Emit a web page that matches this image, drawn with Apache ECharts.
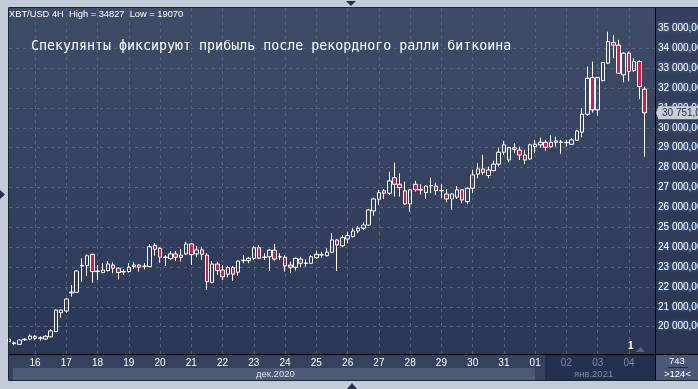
<!DOCTYPE html>
<html><head><meta charset="utf-8">
<script src="https://cdn.jsdelivr.net/npm/echarts@6/dist/echarts.min.js"></script>
<style>html,body{margin:0;padding:0;background:#c3cdda;overflow:hidden}#c{width:698px;height:389px}</style>
</head><body><div id="c"></div>
<script>
// ---- data ----
const days = ['15','16','17','18','19','20','21','22','23','24','25','26','27','28','29','30','31','01','02','03','04'];
const hours = ['00','04','08','12','16','20'];
const headerText = 'XBT/USD 4H  High = 34827  Low = 19070';
const titleText = 'Спекулянты фиксируют прибыль после рекордного ралли биткоина';
const monthLabels = ['дек.2020', 'янв.2021'];
const greyDays = ['02','03','04'];
const yLabelValues = [20000,21000,22000,23000,24000,25000,26000,27000,28000,29000,30000,31000,32000,33000,34000,35000];
const yGridValues = [19000,20000,21000,22000,23000,24000,25000,26000,27000,28000,29000,30000,31000,32000,33000,34000,35000];
const lastPrice = 30751;
const opens = [19380,19150,19115,19340,19380,19520,19420,19380,19490,19750,20700,20790,21700,21730,23050,23070,23640,22770,22720,22820,23100,22940,22750,22770,23020,23100,23030,23020,24090,23940,23480,23420,23660,23490,23660,24160,23660,23860,23600,22230,23150,22850,22640,22970,22740,23320,23320,23440,23970,23480,23520,23850,23500,23490,23100,22990,23400,23180,23190,23470,23600,23570,23740,24360,24070,24410,24530,24810,24950,25110,25820,26410,26830,26710,27490,27160,26830,26170,27160,26870,26740,27080,27070,26830,26670,26420,26510,26880,26290,26960,27670,27930,27600,27850,28170,28770,28380,29000,28880,28630,28430,29050,29140,29270,29050,29270,29260,29250,29170,29370,29780,30680,32520,30900,32370,33250,34280,34150,32660,33750,32880,33330,31940];
const closes = [19250,19190,19330,19370,19530,19420,19440,19520,19790,20840,20840,21390,21740,22800,23080,23570,22770,22800,22850,23150,22940,22720,22780,22990,23100,22990,23050,24020,23890,23490,23500,23660,23490,23600,24160,23620,23860,23640,22260,23150,22820,22510,22970,22640,23300,23340,23440,23970,23440,23500,23850,23400,23520,23050,22990,23440,23190,23200,23520,23640,23620,23740,24360,24110,24480,24580,24810,24950,25110,25870,26420,26740,26710,27330,27160,26990,26170,26880,26880,26900,27070,27100,26840,26850,26420,26670,26880,26370,26960,27630,27930,27760,27880,28170,28770,29140,29000,28920,28630,28380,29140,29170,29270,29020,29270,29340,29290,29270,29390,29840,30680,32490,30900,32520,33280,34330,34150,32740,33750,32830,33330,32070,30751];
const lows = [19200,19070,19080,19300,19330,19330,19300,19330,19480,19740,20450,20700,21510,21720,22260,22550,22210,22350,22690,22770,22690,22380,22600,22720,22900,22770,22880,23000,23570,23220,23050,23350,23300,23270,23600,23100,23490,23350,21850,22180,22600,22350,22480,22310,22560,23190,23190,23350,23420,23350,22800,23320,23350,22770,22690,22820,22990,23020,23150,23400,23470,23520,23690,22800,23990,24190,24480,24700,24850,25050,25580,26120,26420,26620,26540,26540,26120,25780,26790,26650,26420,26710,26620,26460,26250,25870,26420,26200,26150,26710,27460,27630,27460,27800,28050,28630,28260,28720,28380,28170,28400,28720,29000,28840,29000,29050,28690,29050,29140,29340,29520,30600,30760,30600,32330,33200,33490,32700,32290,32320,32800,31450,28550];
const highs = [19420,19250,19380,19420,19620,19570,19520,19570,19880,20860,20860,21420,22100,22820,23440,23640,23660,23100,23190,23300,23240,22990,22880,23190,23240,23150,23190,24160,24200,23990,23600,23800,23800,23900,24270,24200,24060,24020,23700,23300,23270,23100,23050,23050,23320,23600,23500,24070,24100,23690,23900,24160,23690,23600,23270,23470,23520,23400,23600,23820,23770,23940,24700,24400,24610,24780,24950,25080,25250,25920,26490,26870,26920,27790,28250,27710,27290,26920,27330,27160,27110,27490,27240,27160,26910,26700,27070,26920,27000,27880,28220,28640,28050,28340,29000,29340,29050,29220,29050,28890,29200,29390,29500,29390,29640,29550,29390,29390,29480,29890,30990,33070,33320,32560,33300,34827,34660,34420,33800,33830,33490,33380,32070];

// ---- build ----
const categories = [];
days.forEach(d => hours.forEach(h => categories.push(d + ' ' + h)));
categories.shift(); // series starts at 15 04:00
const ohlc = opens.map((o, i) => [o, closes[i], lows[i], highs[i]]);
const isDayStart = (i, v) => v.endsWith(' 00');
function fmtPrice(v, dec) {
  const th = Math.floor(v / 1000), r = Math.round(v % 1000);
  return th + ' ' + String(r).padStart(3, '0') + ',' + (dec === 1 ? '0' : '00');
}

const chart = echarts.init(document.getElementById('c'), null, {renderer: 'canvas'});
const gridL = 9, gridT = 8, gridW = 646, gridH = 346;
const plotBg = new echarts.graphic.LinearGradient(0, 0, 0, 1, [{offset: 0, color: '#3f4c68'}, {offset: 1, color: '#2b3756'}]);
const sideBg = new echarts.graphic.LinearGradient(0, 0, 0, 1, [{offset: 0, color: '#34405d'}, {offset: 1, color: '#2a3652'}]);

const option = {
  animation: false,
  backgroundColor: '#c3cdda',
  title: [
    {text: headerText, left: 9, top: 10, padding: 0,
     textStyle: {color: '#ffffff', fontSize: 9.3, fontWeight: 'normal', fontFamily: 'Liberation Sans'}},
    {text: titleText, left: 31, top: 40, padding: 0,
     textStyle: {color: '#ffffff', fontSize: 13.3, fontWeight: 'normal', fontFamily: 'DejaVu Sans Mono'}}
  ],
  grid: {left: gridL, top: gridT, width: gridW, height: gridH, containLabel: false, outerBoundsMode: 'none'},
  xAxis: {
    type: 'category', data: categories, boundaryGap: false,
    axisLine: {show: true, lineStyle: {color: '#000000', width: 1}},
    axisTick: {show: false},
    axisLabel: {
      interval: isDayStart, margin: 4,
      formatter: v => { const d = v.slice(0, 2); return greyDays.includes(d) ? '{g|' + d + '}' : '{w|' + d + '}'; },
      rich: {
        w: {color: '#ffffff', fontSize: 10, fontFamily: 'Liberation Sans'},
        g: {color: '#7e8ca4', fontSize: 10, fontFamily: 'Liberation Sans'}
      }
    },
    splitLine: {show: true, interval: isDayStart, lineStyle: {color: '#56657f', width: 1, type: [3, 4]}}
  },
  yAxis: {
    type: 'value', position: 'right', min: 18628, max: 36020, scale: true,
    axisLine: {show: true, lineStyle: {color: '#000000', width: 1}},
    axisTick: {show: false, customValues: yGridValues},
    axisLabel: {
      customValues: yLabelValues.concat([lastPrice]), margin: 3, hideOverlap: false,
      formatter: v => v === lastPrice ? '{t|' + fmtPrice(v, 1) + '}' : fmtPrice(v, 2),
      color: '#ffffff', fontSize: 10, fontFamily: 'Liberation Sans',
      textShadowColor: '#4d86ea', textShadowBlur: 3,
      rich: {t: {color: '#1c2740', backgroundColor: '#c9ced7', fontSize: 10, fontFamily: 'Liberation Sans',
                 padding: [2, 3, 1, 4], textShadowBlur: 0, textShadowColor: 'transparent'}}
    },
    splitLine: {show: true, showMinLine: false, showMaxLine: false, lineStyle: {color: '#56657f', width: 1, type: [3, 4]}}
  },
  series: [{
    type: 'candlestick', data: ohlc, barWidth: 4,
    itemStyle: {color: 'rgba(0,0,0,0)', color0: '#e3173e', borderColor: '#ffffff', borderColor0: '#ffffff', borderWidth: 1},
    emphasis: {disabled: true}
  }],
  graphic: [
    {type: 'rect', z: -10, shape: {x: gridL, y: gridT, width: gridW, height: gridH}, style: {fill: plotBg}},
    {type: 'rect', z: -10, shape: {x: 656, y: gridT, width: 42, height: gridH}, style: {fill: sideBg}},
    {type: 'rect', z: -10, shape: {x: gridL, y: 354, width: 689, height: 27}, style: {fill: '#35415d'}},
    {type: 'rect', z: -9, shape: {x: 13, y: 368, width: 522, height: 13}, style: {fill: '#4c5a77'}},
    {type: 'rect', z: -9, shape: {x: 546, y: 355, width: 109, height: 25}, style: {fill: '#243050', stroke: '#1c263d', lineWidth: 1}},
    {type: 'rect', z: -9, shape: {x: 656, y: 355, width: 42, height: 26}, style: {fill: '#4a5875'}},
    {type: 'line', z: 50, shape: {x1: 655.5, y1: 354, x2: 655.5, y2: 381}, style: {stroke: '#000', lineWidth: 1}},
    {type: 'line', z: 50, shape: {x1: 655, y1: 354.5, x2: 698, y2: 354.5}, style: {stroke: '#000', lineWidth: 1}},
    {type: 'rect', z: 50, shape: {x: 8.5, y: 7.5, width: 700, height: 373}, style: {fill: 'none', stroke: '#1d2538', lineWidth: 1}},
    {type: 'text', z: 50, left: 256, top: 369, style: {text: monthLabels[0], fill: '#d9e0ea', fontSize: 9.5, fontFamily: 'Liberation Sans'}},
    {type: 'text', z: 50, left: 574, top: 369, style: {text: monthLabels[1], fill: '#7e8ca4', fontSize: 9.5, fontFamily: 'Liberation Sans'}},
    {type: 'text', z: 50, left: 669, top: 356, style: {text: '743', fill: '#ffffff', fontSize: 9.5, fontFamily: 'Liberation Sans'}},
    {type: 'line', z: 50, shape: {x1: 668, y1: 367.5, x2: 688, y2: 367.5}, style: {stroke: '#222c42', lineWidth: 1}},
    {type: 'text', z: 50, left: 664, top: 369, style: {text: '>124<', fill: '#ffffff', fontSize: 9.5, fontFamily: 'Liberation Sans'}},
    {type: 'text', z: 50, left: 628, top: 341, style: {text: '1', fill: '#ffffff', fontSize: 10, fontWeight: 'bold', fontFamily: 'Liberation Sans'}},
    {type: 'polygon', z: 50, shape: {points: [[636, 352], [645, 352], [640.5, 347]]}, style: {fill: '#56657f'}},
    {type: 'polygon', z: 50, shape: {points: [[346, 1], [356, 1], [351, 6]]}, style: {fill: '#26314a'}},
    {type: 'polygon', z: 50, shape: {points: [[347, 389], [357, 389], [352, 383]]}, style: {fill: '#26314a'}},
    {type: 'polygon', z: 50, shape: {points: [[0, 190], [0, 199], [5, 194.5]]}, style: {fill: '#26314a'}}
  ]
};
chart.setOption(option);
const py = chart.convertToPixel({yAxisIndex: 0}, lastPrice);
chart.setOption({graphic: option.graphic.concat([
  {type: 'polygon', z: 60, shape: {points: [[656, py], [658.5, py - 6.5], [658.5, py + 6.5]]}, style: {fill: '#c9ced7'}}
])});
</script></body></html>
